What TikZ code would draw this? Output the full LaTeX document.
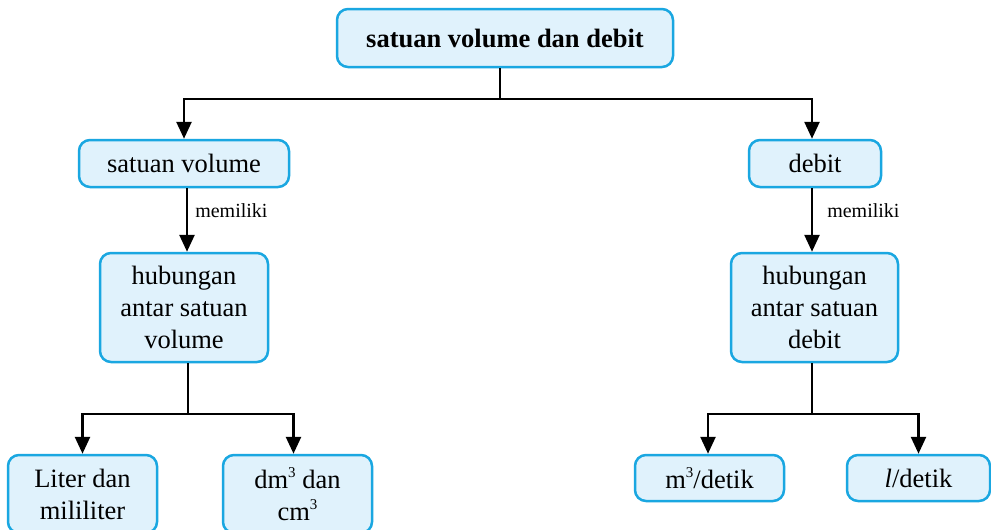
\documentclass[tikz,border=0pt]{standalone}
\usepackage{fontspec}
\setmainfont{Liberation Serif}
\usetikzlibrary{arrows.meta}
\definecolor{boxfill}{HTML}{E0F2FC}
\definecolor{boxline}{HTML}{1AA7E1}
\newcommand{\supthree}{\raisebox{0.42em}{\fontsize{15}{15}\selectfont 3}}
\begin{document}
\begin{tikzpicture}[x=1pt,y=-1pt,
  box/.style={draw=boxline, fill=boxfill, line width=2.5pt, rounded corners=11pt,
    align=center, inner sep=0pt, font=\fontsize{26.5}{32}\selectfont},
  conn/.style={line width=2.6pt, black},
  arr/.style={conn, -{Triangle[length=17pt,width=15pt]}},
  lbl/.style={font=\fontsize{20}{24}\selectfont, anchor=west, inner sep=0pt}]
\clip (0,0) rectangle (991,530);
\fill[white] (0,0) rectangle (991,530);
% nodes
\node[box, minimum width=336pt, minimum height=58pt] (top) at (505,38) {\textbf{satuan volume dan debit}};
\node[box, minimum width=210pt, minimum height=47pt] (sv) at (184,163.5) {satuan volume};
\node[box, minimum width=132pt, minimum height=47pt] (db) at (815,163.5) {debit};
\node[box, minimum width=168pt, minimum height=109pt] (hv) at (184,307.5) {hubungan\\antar satuan\\volume};
\node[box, minimum width=167pt, minimum height=109pt] (hd) at (814.5,307.5) {hubungan\\antar satuan\\debit};
\node[box, minimum width=149pt, minimum height=78pt] (lt) at (82.5,494) {Liter dan\\mililiter};
\node[box, minimum width=149pt, minimum height=78pt] (dm) at (297.5,494) {dm\supthree{} dan\\cm\supthree};
\node[box, minimum width=149pt, minimum height=46pt] (m3) at (709.5,478) {m\supthree/detik};
\node[box, minimum width=143pt, minimum height=46pt] (ld) at (918.5,478) {\textit{l}/detik};
% connectors top
\coordinate (jt) at (500,99);
\draw[conn] (top.south -| jt) -- (jt);
\draw[arr] (jt) -| (sv.north);
\draw[arr] (jt) -| ([xshift=-3pt]db.north);
% memiliki
\draw[arr] ([xshift=3pt]sv.south) -- ([xshift=3pt]hv.north) node[lbl, pos=0.36, xshift=7pt] (l1) {memiliki};
\draw[arr] ([xshift=-3pt]db.south) -- ([xshift=-2.5pt]hd.north) node[lbl, pos=0.36, xshift=14pt] (l2) {memiliki};
% lower left
\coordinate (jl) at (188,414);
\draw[conn] (hv.south -| jl) -- (jl);
\draw[arr] (jl) -| (lt.north);
\draw[arr] (jl) -| ([xshift=-4pt]dm.north);
% lower right
\coordinate (jr) at (812,414);
\draw[conn] (hd.south -| jr) -- (jr);
\draw[arr] (jr) -| ([xshift=-1.5pt]m3.north);
\draw[arr] (jr) -| (ld.north);
\end{tikzpicture}
\end{document}
